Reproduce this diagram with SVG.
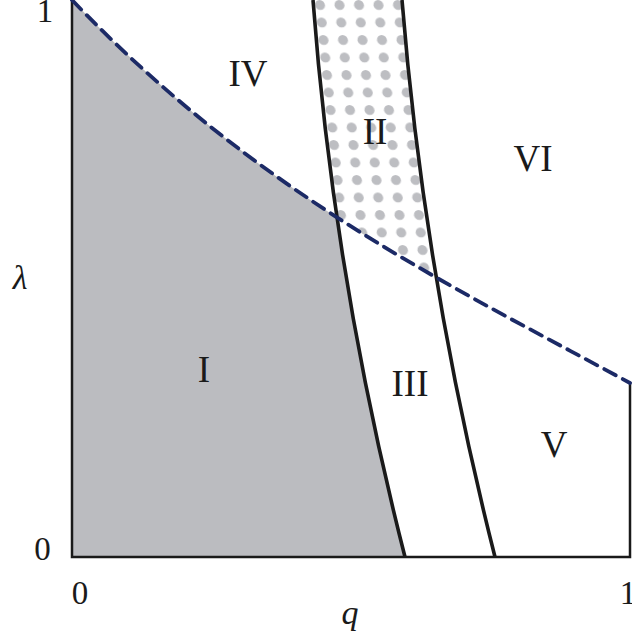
<svg xmlns="http://www.w3.org/2000/svg" width="632" height="638" viewBox="0 0 632 638">
<style>
.lbl{font-family:"Liberation Serif","Times New Roman",serif;fill:#1a1a1a;text-anchor:middle}
.rom{font-size:37px}
.num{font-size:33px}
.it{font-style:italic;font-size:34px}
.bd{fill:none;stroke:#1a1a1a;stroke-width:3.6}
.ax{fill:none;stroke:#1a1a1a;stroke-width:2.5}
.dash{fill:none;stroke:#1c2a66;stroke-width:3.8;stroke-dasharray:13 8;stroke-linecap:round}
</style>
<defs>
<clipPath id="below"><path d="M72,0 C258,194 444,282 630,383 L630,557 L72,557 Z"/></clipPath>
<clipPath id="above"><path d="M72,0 C258,194 444,282 630,383 L632,0 Z"/></clipPath>
<pattern id="dots" patternUnits="userSpaceOnUse" width="19.5" height="17.5" patternTransform="skewX(5.7)">
<circle cx="7.5" cy="5" r="5" fill="#bdbec2"/>
</pattern>
</defs>
<g id="region-I">
<path d="M72,0 L313,0 Q333.8,278.5 405,557 L72,557 Z" fill="#bbbcc0" clip-path="url(#below)"/>
</g>
<g id="region-II">
<g clip-path="url(#above)">
<path d="M313,0 Q333.8,278.5 405,557 L495,557 Q424.3,278.5 402,0 Z" fill="url(#dots)"/>
</g>
</g>
<g id="connectors">
<path class="ax" d="M72,0 L72,557 L630,557 L630,382"/>
<path class="bd" d="M313,0 Q333.8,278.5 405,557"/>
<path class="bd" d="M402,0 Q424.3,278.5 495,557"/>
<path class="dash" d="M72,0 C258,194 444,282 630,383"/>
</g>
<g id="labels">
<text class="lbl rom" x="248" y="86">IV</text>
<text class="lbl rom" x="375" y="144">II</text>
<text class="lbl rom" x="533" y="171">VI</text>
<text class="lbl rom" x="204" y="382">I</text>
<text class="lbl rom" x="410" y="396">III</text>
<text class="lbl rom" x="554" y="457">V</text>
<text class="lbl num" x="45" y="22">1</text>
<text class="lbl num" x="42.5" y="560">0</text>
<text class="lbl num" x="80" y="604">0</text>
<text class="lbl num" x="628" y="604">1</text>
<text class="lbl it" x="350" y="624">q</text>
<text class="lbl it" x="20" y="289">λ</text>
</g>
</svg>
